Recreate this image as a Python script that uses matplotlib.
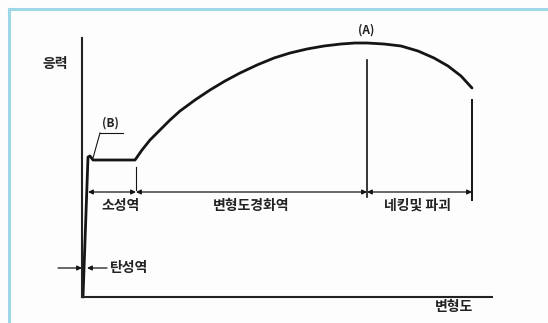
import matplotlib
matplotlib.use('Agg')
import matplotlib.pyplot as plt
from matplotlib.lines import Line2D

plt.rcParams['font.family'] = ['Noto Sans CJK KR', 'DejaVu Sans']

# stress-strain curve (arbitrary units)
strain = [1, 6, 8, 11, 51, 53, 60, 68, 78, 88, 98, 113, 128, 143, 158, 175, 192, 208,
          225, 242, 259, 273, 285, 302, 319, 336, 352, 366, 379, 390]
stress = [0, 140, 141, 137, 137, 137, 147, 157, 167, 177, 186, 197, 207, 216, 224, 232, 239, 244,
          248, 251, 253, 254, 254, 253, 251, 246, 239, 231, 221, 209]

# region boundaries on the strain axis
bounds = [6, 54, 285, 390]
region_labels = ['소성역', '변형도경화역', '네킹및 파괴']
label_x = [39, 169, 335]

W, H = 548, 323
fig = plt.figure(figsize=(W / 100, H / 100), dpi=100)
fig.patch.set_facecolor('#fdfdfd')

# light blue frame (top and left only, like the clipped scan)
frame_c = '#9ed8e6'
fig.add_artist(Line2D([9 / W, 1], [1 - 9 / H, 1 - 9 / H], transform=fig.transFigure, color=frame_c, lw=2.2))
fig.add_artist(Line2D([9 / W, 9 / W], [0, 1 - 9 / H], transform=fig.transFigure, color=frame_c, lw=2.2))

ax = fig.add_axes([82 / W, 26 / H, 410 / W, 259 / H])
ax.set_facecolor('none')
ax.set_xlim(0, 410)
ax.set_ylim(0, 259)
ax.set_xticks([])
ax.set_yticks([])
for s in ['top', 'right']:
    ax.spines[s].set_visible(False)
for s in ['left', 'bottom']:
    ax.spines[s].set_linewidth(1.5)
    ax.spines[s].set_color('#222222')

ink = '#151515'
ax.plot(strain, stress, color=ink, lw=2.0, solid_capstyle='round', solid_joinstyle='round', clip_on=False)

# vertical markers at the region boundaries
ax.plot([285, 285], [100, 237], color=ink, lw=1.2)
ax.plot([390, 390], [97, 197], color=ink, lw=1.4)
ax.plot([54, 54], [107, 130], color=ink, lw=0.8)

# dimension line with arrows
dim_y = 105
arrow = dict(arrowstyle='<|-|>', lw=0.9, color=ink, mutation_scale=7, shrinkA=0, shrinkB=0)
for x0, x1 in zip(bounds[:-1], bounds[1:]):
    ax.annotate('', xy=(x1, dim_y), xytext=(x0, dim_y), arrowprops=arrow)

tfont = dict(fontsize=10, fontweight='bold', color='#222222')
for lab, lx in zip(region_labels, label_x):
    ax.text(lx, 91, lab, ha='center', va='center', **tfont)

# elastic region arrows
one = dict(arrowstyle='-|>', lw=0.9, color=ink, mutation_scale=7, shrinkA=0, shrinkB=0)
ax.annotate('', xy=(0, 29), xytext=(-24, 29), arrowprops=one, annotation_clip=False)
ax.annotate('', xy=(5, 29), xytext=(25, 29), arrowprops=one, annotation_clip=False)
ax.text(28, 29, '탄성역', ha='left', va='center', **tfont)

# (B) upper yield point
ax.plot([18, 41], [164, 164], color=ink, lw=0.8)
ax.plot([18, 11], [164, 139], color=ink, lw=0.8)
ax.text(28, 174, '(B)', ha='center', va='center', fontsize=8.5, fontweight='bold', color='#222222')

# (A) ultimate strength
ax.text(284, 267, '(A)', ha='center', va='center', fontsize=8.5, fontweight='bold',
        color='#222222', clip_on=False)

# axis labels
ax.text(-27, 233, '응력', ha='center', va='center', clip_on=False, **tfont)
ax.text(372, -10, '변형도', ha='center', va='center', clip_on=False, **tfont)

fig.savefig('out.png', dpi=100, facecolor=fig.get_facecolor())
